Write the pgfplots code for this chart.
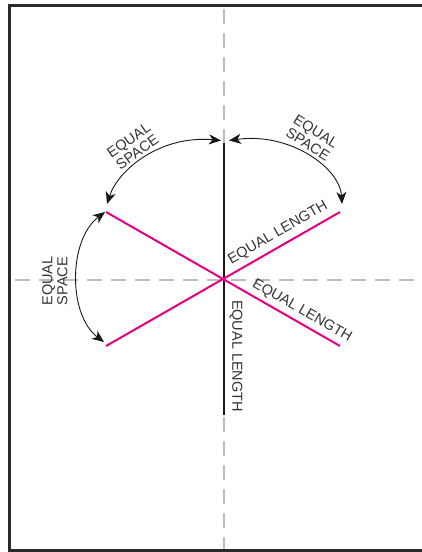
\documentclass[border=0pt]{standalone}
\usepackage{pgfplots}
\pgfplotsset{compat=1.18}
\usepackage{fontspec}
\setmainfont{Liberation Sans}
\usetikzlibrary{arrows.meta}
\definecolor{framec}{HTML}{2A2A2A}
\definecolor{dashc}{HTML}{BDBDBD}
\definecolor{pinkc}{HTML}{E6007E}
\definecolor{textc}{HTML}{333333}
\begin{document}
\begin{tikzpicture}
\begin{axis}[
  width=422pt, height=552pt, scale only axis,
  xmin=0, xmax=422, ymin=0, ymax=552, y dir=reverse,
  axis lines=none, clip=true,
]
\path (axis cs:0,0) rectangle (axis cs:422,552);
% guide lines
\addplot[dashc, line width=1.8pt, dash pattern=on 15pt off 9pt] coordinates {(224,9) (224,552)};
\addplot[dashc, line width=1.6pt, dash pattern=on 15pt off 9pt] coordinates {(15,280) (430,280)};
% frame
\draw[framec, line width=2.8pt] (axis cs:430,5.3) -- (axis cs:9.7,5.3) -- (axis cs:9.7,550.6) -- (axis cs:430,550.6);
% black vertical line
\addplot[black!90, line width=2pt] coordinates {(223.5,143) (223.5,415)};
% pink lines
\addplot[pinkc, line width=2pt] coordinates {(106,212) (340,346)};
\addplot[pinkc, line width=2pt] coordinates {(106,346) (340,212)};
% arcs
\tikzset{arr/.style={line width=0.9pt, black!90, {Stealth[length=12pt,width=10pt,inset=3.5pt]}-{Stealth[length=12pt,width=10pt,inset=3.5pt]}}}
\draw[arr] (axis cs:221,140.5) .. controls (axis cs:160,135) and (axis cs:118,170) .. (axis cs:107,204);
\draw[arr] (axis cs:229,140.5) .. controls (axis cs:290,132) and (axis cs:340,168) .. (axis cs:342,204);
\draw[arr] (axis cs:105,212) .. controls (axis cs:68,240) and (axis cs:68,315) .. (axis cs:104,342);
% texts
\tikzset{lab/.style={text=textc, font=\fontsize{14.5}{15}\selectfont, inner sep=0pt, align=center}}
\node[lab, rotate=35] at (axis cs:133,146) {EQUAL\\SPACE};
\node[lab, rotate=-32] at (axis cs:312,138) {EQUAL\\SPACE};
\node[lab, rotate=90] at (axis cs:55,281) {EQUAL\\SPACE};
\node[lab, rotate=30] at (axis cs:278,233) {EQUAL LENGTH};
\node[lab, rotate=-30] at (axis cs:302,311) {EQUAL LENGTH};
\node[lab, rotate=-90] at (axis cs:236,356) {EQUAL LENGTH};
\end{axis}
\end{tikzpicture}
\end{document}
